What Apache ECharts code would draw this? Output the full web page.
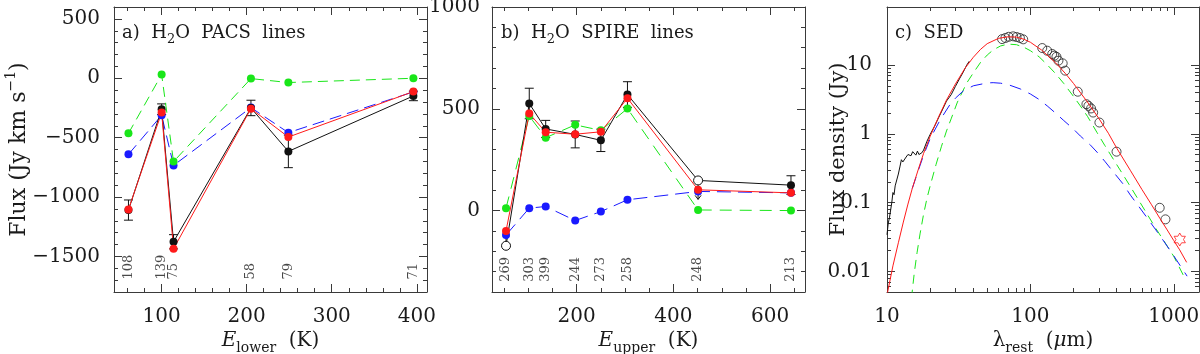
<!DOCTYPE html>
<html>
<head>
<meta charset="utf-8">
<script src="https://cdn.jsdelivr.net/npm/echarts@6/dist/echarts.min.js"></script>
<style>
  html, body { margin: 0; padding: 0; background: #fff; }
  #chart { width: 1200px; height: 354px; }
</style>
</head>
<body>
<div id="chart"></div>
<script>
// a) H2O PACS lines
var pacsE = [61, 100, 114, 205, 249, 396];
var pacsObs = [-1110, -261, -1377, -250, -616, -149];
var pacsErr = [85, 45, 60, 65, 137, 40];
var pacsTotal = [-1105, -289, -1436, -256, -495, -112];
var pacsWarm = [-641, -312, -734, -247, -458, -115];
var pacsCold = [-464, 31, -702, -3, -36, 0];
var pacsLabels = ['108', '139', '75', '58', '79', '71'];

// b) H2O SPIRE lines
var spireE = [54, 102, 136, 197, 250, 305, 451, 643];
var spireObs = [-173, 526, 401, 374, 345, 570, 148, 125];
var spireErr = [0, 75, 42, 66, 55, 63, 0, 46];
var spireLimitTo = [-110, null, null, null, null, null, 55, null];
var spireTotal = [-100, 477, 385, 375, 387, 552, 102, 87];
var spireWarm = [-120, 12, 20, -49, -5, 53, 94, 87];
var spireCold = [12, 464, 358, 421, 394, 501, 3, 0];
var spireLabels = ['269', '303', '399', '244', '273', '258', '248', '213'];

// c) SED
var totalWave = [10, 11, 12, 13, 14, 15, 16.5, 18, 20, 23, 26, 30, 35, 40, 45, 50, 60, 70, 80, 90, 100, 120, 150, 175, 200, 250, 300, 350, 400, 500, 600, 700, 800, 900, 1000, 1100, 1230];
var totalFlux = [0.0045, 0.012, 0.026, 0.052, 0.095, 0.16, 0.30, 0.52, 0.92, 1.8, 3.1, 5.3, 9.0, 13.0, 17.0, 20.5, 24.5, 25.8, 25.5, 23.8, 21.5, 16.5, 10.8, 7.6, 5.4, 2.9, 1.68, 1.02, 0.62, 0.29, 0.155, 0.093, 0.059, 0.040, 0.028, 0.0205, 0.0135];
var coldWave = [14.8, 15.5, 16.2, 17, 18, 19, 20, 22, 24, 26, 28, 31, 36, 40, 45, 50, 55, 62, 70, 80, 90, 100, 115, 130, 150, 171, 200, 223, 250, 292, 330, 381, 440, 499, 570, 652, 750, 851, 1000, 1175];
var coldFlux = [0.004, 0.0095, 0.0186, 0.035, 0.068, 0.115, 0.175, 0.36, 0.66, 1.1, 1.65, 2.9, 5.5, 7.7, 11.0, 14.0, 16.6, 19.0, 20.2, 19.8, 18.2, 16.2, 13.2, 10.3, 7.5, 5.4, 3.5, 2.55, 1.8, 1.04, 0.68, 0.42, 0.26, 0.17, 0.108, 0.068, 0.042, 0.028, 0.0165, 0.0085];
var warmWave = [15, 16.5, 18, 20, 23.5, 27.6, 30, 34, 40, 50, 55, 62, 70, 85, 100, 114, 131, 150, 171, 200, 223, 260, 292, 330, 381, 440, 499, 570, 652, 750, 851, 1000, 1239];
var warmFlux = [0.16, 0.29, 0.49, 0.85, 1.6, 2.7, 3.3, 4.2, 5.0, 5.5, 5.55, 5.45, 5.2, 4.5, 3.8, 3.2, 2.55, 2.0, 1.56, 1.17, 0.93, 0.7, 0.54, 0.4, 0.275, 0.19, 0.128, 0.088, 0.06, 0.04, 0.0275, 0.0168, 0.0085];
var irsWave = [10.0, 10.2, 10.4, 10.6, 10.8, 11.0, 11.2, 11.4, 11.6, 12.0, 12.3, 12.6, 12.9, 13.2, 13.6, 14.0, 14.4, 14.7, 15.1, 15.5, 15.9, 16.3, 16.7, 17.1, 17.5, 18.0, 19.0, 20.0, 21.5, 23, 24.5, 26, 28, 30, 32, 34, 36, 37.5];
var irsFlux = [0.034, 0.05, 0.06, 0.058, 0.1, 0.14, 0.13, 0.175, 0.165, 0.26, 0.33, 0.42, 0.39, 0.37, 0.46, 0.5, 0.53, 0.48, 0.55, 0.52, 0.49, 0.56, 0.50, 0.49, 0.53, 0.58, 0.78, 0.98, 1.3, 1.75, 2.3, 3.0, 3.7, 4.9, 6.3, 7.9, 10.0, 11.4];
var photWave = [63.5, 67, 70.6, 75.9, 80.1, 84.5, 89.1, 121, 131, 142, 147, 152, 157, 168, 175, 214, 246, 254, 265, 274, 303, 399, 798, 875];
var photFlux = [23.9, 24.8, 25.8, 26.2, 25.6, 24.8, 23.7, 17.7, 16.2, 14.5, 13.7, 13.2, 11.6, 10.6, 8.3, 4.1, 2.7, 2.55, 2.34, 2.04, 1.46, 0.55, 0.084, 0.057];
var mmWave = [1101];
var mmFlux = [0.029];

// ticks
var pacsXTicks = [100, 200, 300, 400];
var pacsYTicks = [-1500, -1000, -500, 0, 500];
var spireXTicks = [200, 400, 600];
var spireYTicks = [0, 500, 1000];
var sedXTicks = [10, 100, 1000];
var sedYTicks = [0.01, 0.1, 1, 10];

var FONT = 'DejaVu Serif';
var INK = '#3a3a3a';
var TEXT = '#1a1a1a';
var GREEN = '#19e619';
var BLUE = '#1a1aff';
var RED = '#ff1a1a';
var BLACK = '#111';

function steps(from, to, step, skip) {
  var out = [];
  for (var v = from; v <= to + 1e-9; v += step) {
    if (skip.indexOf(v) < 0) out.push(v);
  }
  return out;
}
function logMinors(lo, hi) {
  var out = [];
  for (var d = lo; d < hi; d *= 10) {
    for (var k = 2; k <= 9; k++) out.push(+(k * d).toPrecision(3));
  }
  return out;
}

function fmtLin(v) { return v < 0 ? '\u2212' + Math.abs(v) : String(v); }
function fmtLog(v) { return String(+(+v).toPrecision(3)); }

function rich(size) {
  var base = { fontFamily: FONT, fontWeight: 'normal', color: TEXT };
  function st(o) { return Object.assign({}, base, o); }
  return {
    n: st({ fontSize: size, lineHeight: size + 4, verticalAlign: 'top' }),
    it: st({ fontSize: size, fontStyle: 'italic', lineHeight: size + 4, verticalAlign: 'top' }),
    sub: st({ fontSize: Math.round(size * 0.7), lineHeight: Math.round(size * 0.7), padding: [Math.round(size * 0.65), 0, 0, 0], verticalAlign: 'bottom' }),
    sup: st({ fontSize: Math.round(size * 0.65), lineHeight: Math.round(size * 0.65), padding: [0, 0, Math.round(size * 0.55), 0], verticalAlign: 'top' }),
    nb: st({ fontSize: size, lineHeight: size + 4, verticalAlign: 'bottom' })
  };
}

function axes(dim, g, type, min, max, major, minor, margin, fmt, name) {
  var out = [];
  var sides = dim === 'x' ? ['bottom', 'top'] : ['left', 'right'];
  sides.forEach(function (side, s) {
    [major, minor].forEach(function (vals, m) {
      var a = {
        gridIndex: g, type: type, position: side, min: min, max: max,
        splitLine: { show: false },
        axisLine: { show: m === 0, onZero: false, lineStyle: { color: INK, width: 1 } },
        axisTick: { show: true, inside: true, length: m === 0 ? 8 : 4, customValues: vals, lineStyle: { color: INK, width: 1 } },
        axisLabel: { show: false },
        axisPointer: { show: false }
      };
      if (type === 'log') a.logBase = 10;
      if (s === 0 && m === 0) {
        a.axisLabel = { show: true, customValues: major, margin: margin, formatter: fmt,
          fontFamily: FONT, fontSize: 20, color: TEXT };
        if (name) {
          a.name = name.text;
          a.nameLocation = 'middle';
          a.nameGap = name.gap;
          a.nameMoveOverlap = false;
          a.nameRotate = dim === 'y' ? 90 : 0;
          a.nameTextStyle = { rich: rich(name.size) };
        }
      }
      out.push(a);
    });
  });
  return out;
}

var xAxis = [].concat(
  axes('x', 0, 'value', 44, 412, pacsXTicks, steps(60, 400, 20, pacsXTicks), 15, fmtLin,
    { text: '{it|E}{sub|lower}{n|  (K)}', gap: 39, size: 20 }),
  axes('x', 1, 'value', 25, 672, spireXTicks, steps(50, 650, 50, spireXTicks), 15, fmtLin,
    { text: '{it|E}{sub|upper}{n|  (K)}', gap: 39, size: 20 }),
  axes('x', 2, 'log', 10, 1500, sedXTicks, logMinors(10, 1000), 15, fmtLog,
    { text: '{n|\u03bb}{sub|rest}{n|  (}{it|\u03bc}{n|m)}', gap: 39, size: 20 })
);
var yAxis = [].concat(
  axes('y', 0, 'value', -1800, 600, pacsYTicks, steps(-1700, 500, 100, pacsYTicks), 14, fmtLin,
    { text: '{nb|Flux (Jy km s}{sup|\u22121}{nb|)}', gap: 84, size: 22 }),
  axes('y', 1, 'value', -400, 1000, spireYTicks, steps(-300, 900, 100, spireYTicks), 12, fmtLin, null),
  axes('y', 2, 'log', 0.005, 70, sedYTicks, logMinors(0.001, 10).filter(function (v) { return v > 0.005 && v < 70; }), 15, fmtLog,
    { text: '{n|Flux density (Jy)}', gap: 34, size: 21 })
);

function pairs(xs, ys) { return xs.map(function (x, i) { return [x, ys[i]]; }); }

function modelLine(g, xs, ys, color, dash) {
  return {
    type: 'line', xAxisIndex: 4 * g, yAxisIndex: 4 * g, data: pairs(xs, ys),
    symbol: 'circle', symbolSize: 8, showSymbol: true,
    lineStyle: { color: color, width: 1, type: dash },
    itemStyle: { color: color }
  };
}

function errorBars(g, xs, ys, errs) {
  return {
    type: 'custom', xAxisIndex: 4 * g, yAxisIndex: 4 * g,
    data: xs.map(function (x, i) { return [x, ys[i], errs[i]]; }).filter(function (d) { return d[2] > 0; }),
    renderItem: function (params, api) {
      var x = api.value(0), y = api.value(1), e = api.value(2);
      var t = api.coord([x, y + e]), b = api.coord([x, y - e]);
      var w = 4.5, st = { stroke: BLACK, lineWidth: 1 };
      return { type: 'group', children: [
        { type: 'line', shape: { x1: t[0], y1: t[1], x2: b[0], y2: b[1] }, style: st },
        { type: 'line', shape: { x1: t[0] - w, y1: t[1], x2: t[0] + w, y2: t[1] }, style: st },
        { type: 'line', shape: { x1: b[0] - w, y1: b[1], x2: b[0] + w, y2: b[1] }, style: st }
      ] };
    }
  };
}

function limitArrows(g, xs, ys, tos) {
  return {
    type: 'custom', xAxisIndex: 4 * g, yAxisIndex: 4 * g,
    data: xs.map(function (x, i) { return [x, ys[i], tos[i]]; }).filter(function (d) { return d[2] != null; }),
    renderItem: function (params, api) {
      var x = api.value(0);
      var a = api.coord([x, api.value(1)]), b = api.coord([x, api.value(2)]);
      var dir = b[1] > a[1] ? -1 : 1, st = { stroke: BLACK, lineWidth: 1 };
      return { type: 'group', children: [
        { type: 'line', shape: { x1: a[0], y1: a[1], x2: b[0], y2: b[1] }, style: st },
        { type: 'line', shape: { x1: b[0] - 3, y1: b[1] + 4 * dir, x2: b[0], y2: b[1] }, style: st },
        { type: 'line', shape: { x1: b[0] + 3, y1: b[1] + 4 * dir, x2: b[0], y2: b[1] }, style: st }
      ] };
    }
  };
}

function transitionLabels(g, xs, names, yAt) {
  return {
    type: 'scatter', xAxisIndex: 4 * g, yAxisIndex: 4 * g, symbolSize: 1,
    itemStyle: { color: 'rgba(0,0,0,0)' },
    data: xs.map(function (x, i) { return { value: [x, yAt], name: names[i] }; }),
    label: { show: true, position: 'inside', align: 'left', verticalAlign: 'middle', rotate: 90,
      formatter: '{b}', fontFamily: FONT, fontSize: 13, color: TEXT }
  };
}

var spireObsData = spireE.map(function (x, i) {
  var lim = spireLimitTo[i] != null;
  return lim
    ? { value: [x, spireObs[i]], symbol: 'circle', symbolSize: 9, itemStyle: { color: '#fff', borderColor: BLACK, borderWidth: 1 } }
    : { value: [x, spireObs[i]], symbol: 'circle', symbolSize: 8 };
});

var hexagram = 'path://M0,-10L2.887,-5L8.66,-5L5.774,0L8.66,5L2.887,5L0,10L-2.887,5L-8.66,5L-5.774,0L-8.66,-5L-2.887,-5Z';

var series = [
  errorBars(0, pacsE, pacsObs, pacsErr),
  modelLine(0, pacsE, pacsWarm, BLUE, [12, 6]),
  modelLine(0, pacsE, pacsCold, GREEN, [10, 6]),
  modelLine(0, pacsE, pacsObs, BLACK, 'solid'),
  modelLine(0, pacsE, pacsTotal, RED, 'solid'),
  transitionLabels(0, pacsE, pacsLabels, -1695),

  errorBars(1, spireE, spireObs, spireErr),
  limitArrows(1, spireE, spireObs, spireLimitTo),
  modelLine(1, spireE, spireWarm, BLUE, [14, 7]),
  modelLine(1, spireE, spireCold, GREEN, [12, 8]),
  {
    type: 'line', xAxisIndex: 4, yAxisIndex: 4, data: spireObsData,
    lineStyle: { color: BLACK, width: 1 }, itemStyle: { color: BLACK }
  },
  modelLine(1, spireE, spireTotal, RED, 'solid'),
  transitionLabels(1, spireE, spireLabels, -350),

  { type: 'line', xAxisIndex: 8, yAxisIndex: 8, data: pairs(coldWave, coldFlux), showSymbol: false, symbol: 'none',
    lineStyle: { color: GREEN, width: 1, type: [9, 6] } },
  { type: 'line', xAxisIndex: 8, yAxisIndex: 8, data: pairs(warmWave, warmFlux), showSymbol: false, symbol: 'none',
    lineStyle: { color: BLUE, width: 1, type: [12, 8] } },
  { type: 'line', xAxisIndex: 8, yAxisIndex: 8, data: pairs(irsWave, irsFlux), showSymbol: false, symbol: 'none',
    lineStyle: { color: BLACK, width: 1 } },
  { type: 'line', xAxisIndex: 8, yAxisIndex: 8, data: pairs(totalWave, totalFlux), showSymbol: false, symbol: 'none',
    lineStyle: { color: RED, width: 1 } },
  { type: 'scatter', xAxisIndex: 8, yAxisIndex: 8, data: pairs(photWave, photFlux), symbol: 'circle', symbolSize: 9,
    itemStyle: { color: 'rgba(0,0,0,0)', borderColor: '#222', borderWidth: 1 } },
  { type: 'scatter', xAxisIndex: 8, yAxisIndex: 8, data: pairs(mmWave, mmFlux), symbol: hexagram, symbolSize: 13,
    symbolKeepAspect: true, itemStyle: { color: 'rgba(0,0,0,0)', borderColor: RED, borderWidth: 1 } }
];

var titleRich = rich(18);
var titleStyle = { fontWeight: 'normal', fontFamily: FONT, rich: titleRich };
var option = {
  animation: false,
  backgroundColor: '#fff',
  title: [
    { text: '{n|a)  H}{sub|2}{n|O  PACS  lines}', left: 122, top: 24, padding: 0, textStyle: titleStyle },
    { text: '{n|b)  H}{sub|2}{n|O  SPIRE  lines}', left: 501, top: 24, padding: 0, textStyle: titleStyle },
    { text: '{n|c)  SED}', left: 895, top: 24, padding: 0, textStyle: titleStyle }
  ],
  grid: [
    { left: 114, top: 7, width: 313, height: 285, outerBoundsMode: 'none' },
    { left: 492, top: 7, width: 313, height: 285, outerBoundsMode: 'none' },
    { left: 887, top: 7, width: 312, height: 285, outerBoundsMode: 'none' }
  ],
  xAxis: xAxis,
  yAxis: yAxis,
  series: series
};

var chart = echarts.init(document.getElementById('chart'), null, { renderer: 'canvas' });
chart.setOption(option);
</script>
</body>
</html>
